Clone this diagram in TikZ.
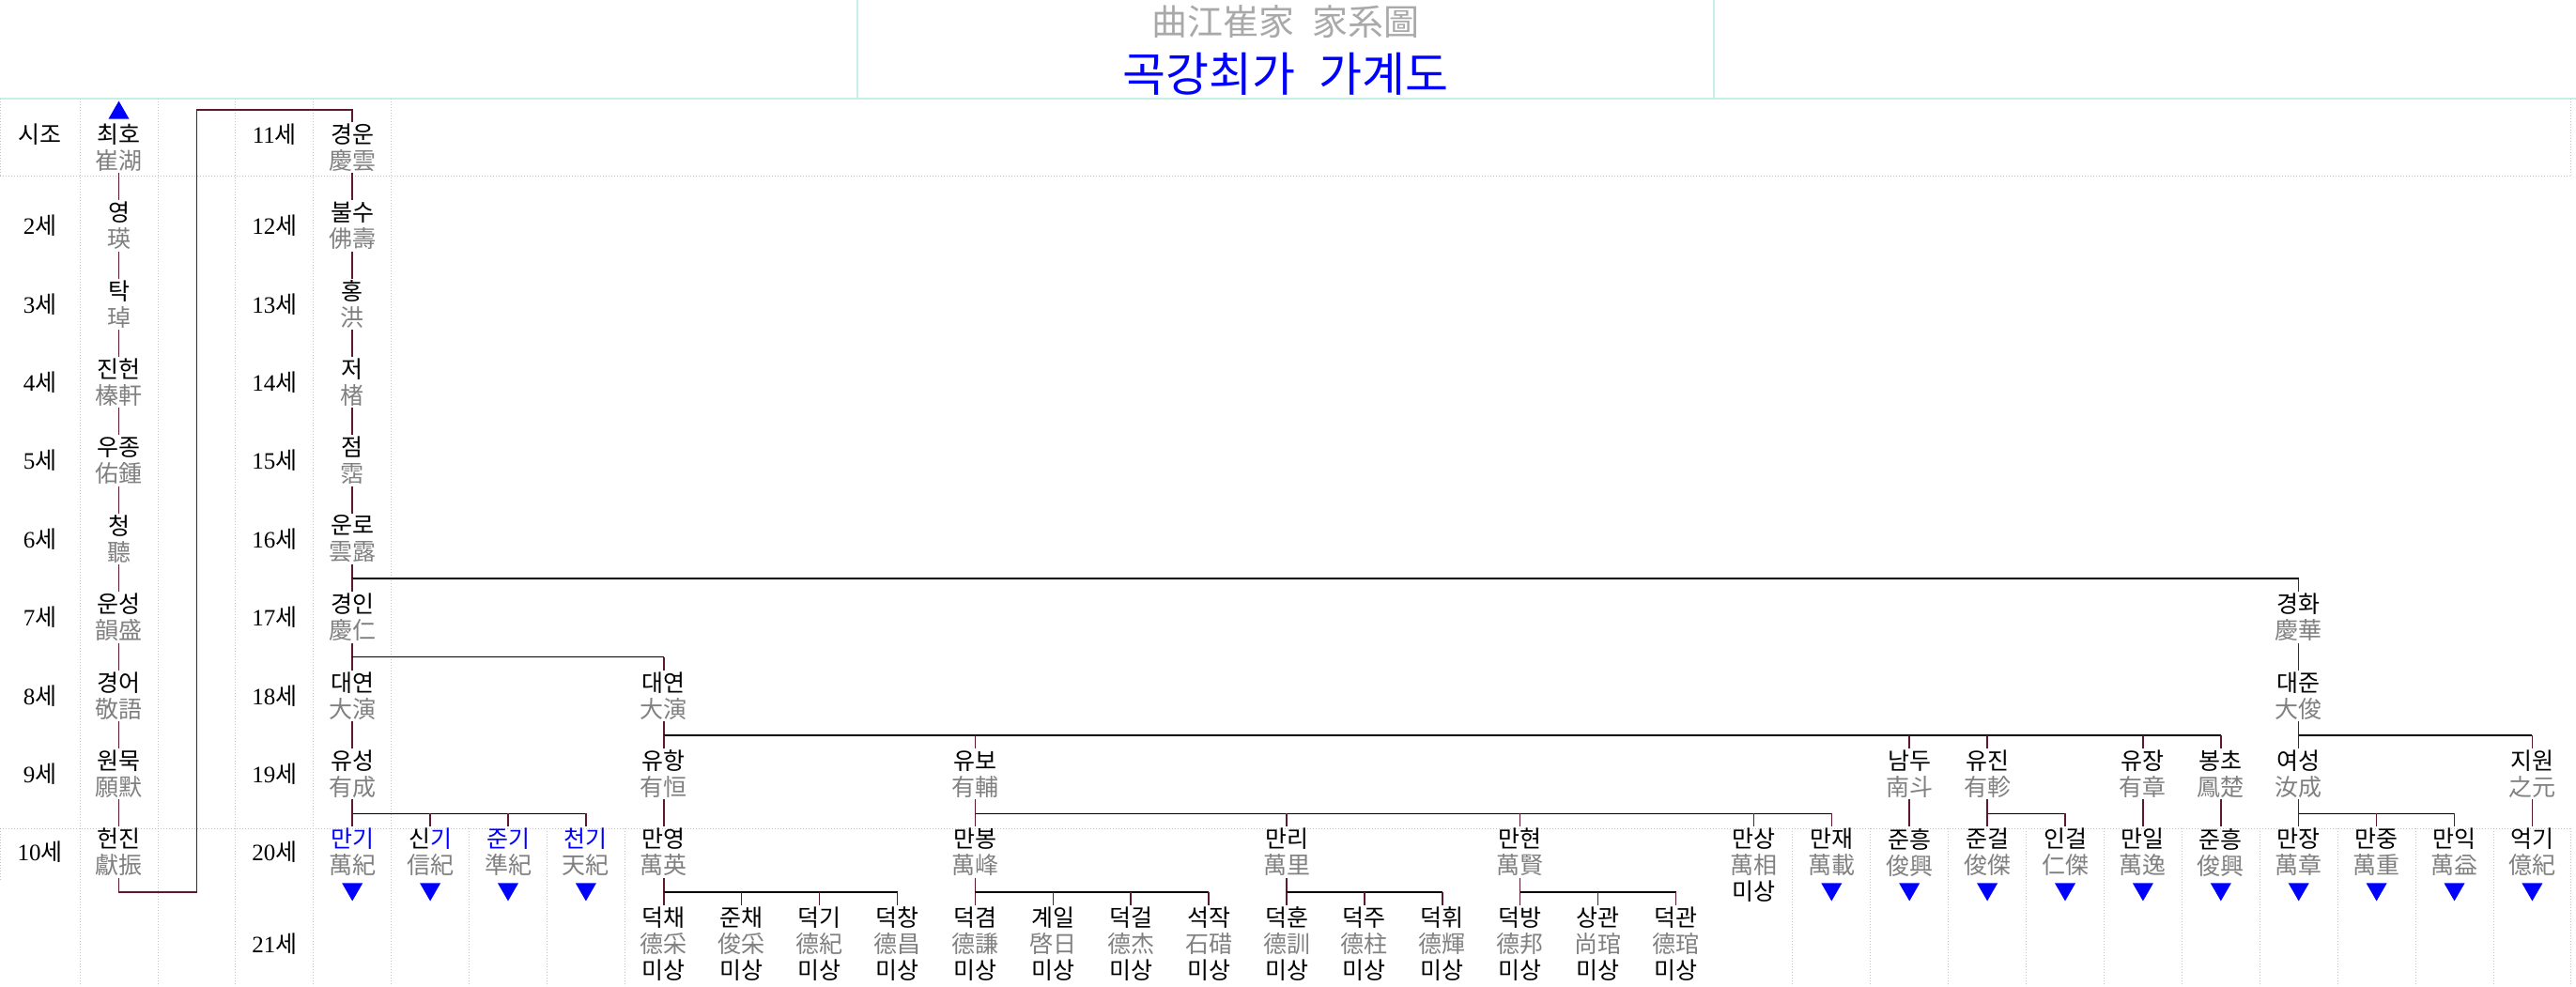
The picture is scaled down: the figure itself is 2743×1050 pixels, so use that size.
\documentclass[tikz,border=0pt]{standalone}
\usepackage{fontspec}
\setmainfont{Liberation Serif}
\newfontfamily\kr{Noto Sans CJK KR}
\newfontfamily\numfont{Liberation Serif}
\usepackage{tikz}
\usetikzlibrary{positioning, shapes.geometric}
\definecolor{hjgray}{HTML}{808080}
\definecolor{ttlgray}{HTML}{A9A9A9}
\definecolor{markblue}{HTML}{0000FF}
\definecolor{gridcyan}{HTML}{C6EFE7}
\definecolor{griddot}{HTML}{C4C4C4}
\definecolor{stemred}{HTML}{5E1A2C}
\newcommand{\hj}[1]{\textcolor{hjgray}{#1}}
\newcommand{\se}[1]{{\numfont #1}세}
\newcommand{\bl}[1]{\textcolor{markblue}{#1}}

\begin{document}
\begin{tikzpicture}[
  x=1pt, y=-1pt,
  person/.style={font=\kr\fontsize{25}{28}\selectfont, align=center, inner sep=0pt, minimum height=54pt},
  person3/.style={person, minimum height=82pt},
  gen/.style={font=\kr\fontsize{25}{28}\selectfont, inner sep=0pt},
  triup/.style={regular polygon, regular polygon sides=3, fill=markblue, inner sep=0pt, minimum size=25.4pt},
  tridown/.style={triup, shape border rotate=180},
  bar/.style={draw=black, line width=1.5pt},
  stem/.style={draw=stemred, line width=1.5pt},
  celldot/.style={draw=griddot, line width=0.8pt, dash pattern=on 1pt off 2pt},
  cyanrule/.style={draw=gridcyan, line width=2pt}
]
\useasboundingbox (0,0) rectangle (2743,1050);

% title box
\draw[cyanrule] (0,105) -- (2743,105);
\draw[cyanrule] (913,0) -- (913,105);
\draw[cyanrule] (1825,0) -- (1825,105);
\node[font=\kr\fontsize{38}{40}\selectfont, text=ttlgray, inner sep=0pt] (ttlhj) at (1369,23) {曲江崔家\hspace{0.5em}家系圖};
\node[font=\kr\fontsize{50}{52}\selectfont, text=markblue, inner sep=0pt] (ttlkr) at (1369,79) {곡강최가\hspace{0.5em}가계도};

% cell borders
\draw[celldot] (0,187) -- (2738,187);
\draw[celldot] (0,882) -- (2738,882);
\draw[celldot] (0,105) -- (0,187);
\draw[celldot] (0,882) -- (0,937);
\draw[celldot] (2737.8,105) -- (2737.8,187);
\foreach \k in {1,...,5}
  \draw[celldot] ({85+82.9*(\k-1)},105) -- ({85+82.9*(\k-1)},1050);
\foreach \k in {6,7,8,23,24,...,33}
  \draw[celldot] ({85+82.9*(\k-1)},882) -- ({85+82.9*(\k-1)},1050);

% generation labels
\node[gen] (g1) at (42.5,143) {시조};
\node[gen] (g11) at (292.3,143) {\se{11}};
\foreach \r in {2,...,10}{
  \node[gen] (g\r) at (42.5,{157+83.4*(\r-1)}) {\se{\r}};
  \pgfmathtruncatemacro{\rr}{\r+10}
  \node[gen] (g\rr) at (292.3,{157+83.4*(\r-1)}) {\se{\rr}};
}
\node[gen] (g21) at (292.3,1005) {\se{21}};

% 1-10 generations
\node[person] (choiho)   at (126.5,157)   {최호\\\hj{崔湖}};
\node[person] (yeong)    at (126.5,240.4) {영\\\hj{瑛}};
\node[person] (tak)      at (126.5,323.8) {탁\\\hj{琸}};
\node[person] (jinheon)  at (126.5,407.2) {진헌\\\hj{榛軒}};
\node[person] (ujong)    at (126.5,490.6) {우종\\\hj{佑鍾}};
\node[person] (cheong)   at (126.5,574)   {청\\\hj{聽}};
\node[person] (unseong)  at (126.5,657.4) {운성\\\hj{韻盛}};
\node[person] (gyeongeo) at (126.5,740.8) {경어\\\hj{敬語}};
\node[person] (wonmuk)   at (126.5,824.2) {원묵\\\hj{願默}};
\node[person] (heonjin)  at (126.5,907.6) {헌진\\\hj{獻振}};
\node[triup, above=3pt of choiho] (origin) {};

% 11-19 generations
\node[person] (gyeongun)  at (375.2,157)    {경운\\\hj{慶雲}};
\node[person] (bulsu)     at (375.2,240.4)  {불수\\\hj{佛壽}};
\node[person] (hong)      at (375.2,323.8)  {홍\\\hj{洪}};
\node[person] (jeo)       at (375.2,407.2)  {저\\\hj{楮}};
\node[person] (jeom)      at (375.2,490.6)  {점\\\hj{霑}};
\node[person] (unro)      at (375.2,574)    {운로\\\hj{雲露}};
\node[person] (gyeongin)  at (375.2,657.4)  {경인\\\hj{慶仁}};
\node[person] (gyeonghwa) at (2447.7,657.4) {경화\\\hj{慶華}};
\node[person] (daeyeonA)  at (375.2,740.8)  {대연\\\hj{大演}};
\node[person] (daeyeonB)  at (706.8,740.8)  {대연\\\hj{大演}};
\node[person] (daejun)    at (2447.7,740.8) {대준\\\hj{大俊}};
\node[person] (yuseong)   at (375.2,824.2)  {유성\\\hj{有成}};
\node[person] (yuhang)    at (706.8,824.2)  {유항\\\hj{有恒}};
\node[person] (yubo)      at (1038.4,824.2) {유보\\\hj{有輔}};
\node[person] (namdu)     at (2033.2,824.2) {남두\\\hj{南斗}};
\node[person] (yujin)     at (2116.1,824.2) {유진\\\hj{有軫}};
\node[person] (yujang)    at (2281.9,824.2) {유장\\\hj{有章}};
\node[person] (bongcho)   at (2364.8,824.2) {봉초\\\hj{鳳楚}};
\node[person] (yeoseong)  at (2447.7,824.2) {여성\\\hj{汝成}};
\node[person] (jiwon)     at (2696.4,824.2) {지원\\\hj{之元}};

% 20th generation
\node[person] (mangi)     at (375.2,907.6)  {\bl{만기}\\\hj{萬紀}};
\node[person] (singi)     at (458.1,907.6)  {신\bl{기}\\\hj{信紀}};
\node[person] (jungi)     at (541.0,907.6)  {\bl{준기}\\\hj{準紀}};
\node[person] (cheongi)   at (623.9,907.6)  {\bl{천기}\\\hj{天紀}};
\node[person] (manyeong)  at (706.8,907.6)  {만영\\\hj{萬英}};
\node[person] (manbong)   at (1038.4,907.6) {만봉\\\hj{萬峰}};
\node[person] (manri)     at (1370.0,907.6) {만리\\\hj{萬里}};
\node[person] (manhyeon)  at (1618.7,907.6) {만현\\\hj{萬賢}};
\node[person3] (mansang)  at (1867.4,921.6) {만상\\\hj{萬相}\\미상};
\node[person] (manjae)    at (1950.3,907.6) {만재\\\hj{萬載}};
\node[person] (junheungA) at (2033.2,907.6) {준흥\\\hj{俊興}};
\node[person] (jungeol)   at (2116.1,907.6) {준걸\\\hj{俊傑}};
\node[person] (ingeol)    at (2199.0,907.6) {인걸\\\hj{仁傑}};
\node[person] (manil)     at (2281.9,907.6) {만일\\\hj{萬逸}};
\node[person] (junheungB) at (2364.8,907.6) {준흥\\\hj{俊興}};
\node[person] (manjang)   at (2447.7,907.6) {만장\\\hj{萬章}};
\node[person] (manjung)   at (2530.6,907.6) {만중\\\hj{萬重}};
\node[person] (manik)     at (2613.5,907.6) {만익\\\hj{萬益}};
\node[person] (eokgi)     at (2696.4,907.6) {억기\\\hj{億紀}};
\foreach \p in {mangi,singi,jungi,cheongi,manjae,junheungA,jungeol,ingeol,manil,junheungB,manjang,manjung,manik,eokgi}
  \node[tridown, below=5.4pt of \p] (\p-mark) {};

% 21st generation
\node[person3] (deokchae)  at (706.8,1005)  {덕채\\\hj{德采}\\미상};
\node[person3] (junchae)   at (789.7,1005)  {준채\\\hj{俊采}\\미상};
\node[person3] (deokgi)    at (872.6,1005)  {덕기\\\hj{德紀}\\미상};
\node[person3] (deokchang) at (955.5,1005)  {덕창\\\hj{德昌}\\미상};
\node[person3] (deokgyeom) at (1038.4,1005) {덕겸\\\hj{德謙}\\미상};
\node[person3] (gyeil)     at (1121.3,1005) {계일\\\hj{啓日}\\미상};
\node[person3] (deokgeol)  at (1204.2,1005) {덕걸\\\hj{德杰}\\미상};
\node[person3] (seokjak)   at (1287.1,1005) {석작\\\hj{石碏}\\미상};
\node[person3] (deokhun)   at (1370.0,1005) {덕훈\\\hj{德訓}\\미상};
\node[person3] (deokju)    at (1452.9,1005) {덕주\\\hj{德柱}\\미상};
\node[person3] (deokhwi)   at (1535.8,1005) {덕휘\\\hj{德輝}\\미상};
\node[person3] (deokbang)  at (1618.7,1005) {덕방\\\hj{德邦}\\미상};
\node[person3] (sanggwan)  at (1701.6,1005) {상관\\\hj{尚琯}\\미상};
\node[person3] (deokgwan)  at (1784.5,1005) {덕관\\\hj{德琯}\\미상};

% single lines of descent
\foreach \a/\b in {choiho/yeong, yeong/tak, tak/jinheon, jinheon/ujong, ujong/cheong,
  cheong/unseong, unseong/gyeongeo, gyeongeo/wonmuk, wonmuk/heonjin,
  gyeongun/bulsu, bulsu/hong, hong/jeo, jeo/jeom, jeom/unro,
  gyeonghwa/daejun, daeyeonA/yuseong, yuhang/manyeong, namdu/junheungA,
  yujang/manil, bongcho/junheungB, jiwon/eokgi}
  \draw[stem] (\a) -- (\b);

% 10th to 11th generation
\coordinate (loopsw) at (209.4,950);
\coordinate (loopnw) at (209.4,117);
\draw[stem] (heonjin.south) |- (loopsw) -- (loopnw) -| (gyeongun.north);

% families with several sons
\foreach \p/\l/\kids in {
  unro/gyeonghwa/{gyeongin,gyeonghwa},
  gyeongin/daeyeonB/{daeyeonA,daeyeonB},
  daeyeonB/bongcho/{yuhang,yubo,namdu,yujin,yujang,bongcho},
  daejun/jiwon/{yeoseong,jiwon},
  yuseong/cheongi/{mangi,singi,jungi,cheongi},
  yubo/manjae/{manbong,manri,manhyeon,mansang,manjae},
  yujin/ingeol/{jungeol,ingeol},
  yeoseong/manik/{manjang,manjung,manik},
  manyeong/deokchang/{deokchae,junchae,deokgi,deokchang},
  manbong/seokjak/{deokgyeom,gyeil,deokgeol,seokjak},
  manri/deokhwi/{deokhun,deokju,deokhwi},
  manhyeon/deokgwan/{deokbang,sanggwan,deokgwan}}{
  \draw[stem] (\p.south) -- ++(0,15) coordinate (\p-bar);
  \draw[bar] (\p-bar) -- (\p-bar -| \l);
  \foreach \c in \kids
    \draw[stem] (\p-bar -| \c) -- (\c.north);
}

\end{tikzpicture}
\end{document}
